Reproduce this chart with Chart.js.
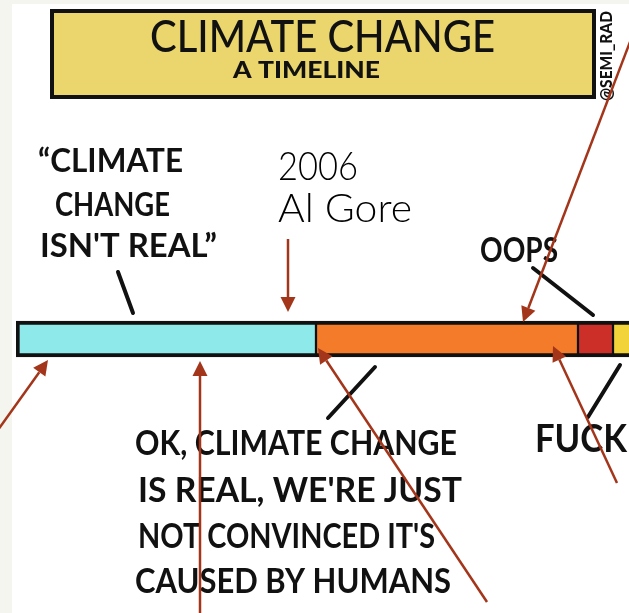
<!DOCTYPE html>
<html lang="en">
<head>
  <meta charset="UTF-8" />
  <title>Climate Change - A Timeline</title>
  <script src="https://cdn.jsdelivr.net/npm/chart.js"></script>
  <style>
    html, body { margin: 0; padding: 0; background: #fff; }
    #wrap { width: 629px; height: 613px; position: relative; }
  </style>
</head>
<body>
  <div id="wrap"><canvas id="timeline" width="629" height="613"></canvas></div>

  <script>
    // --- data: the timeline, one stacked bar, lengths in arbitrary "time" units
    const categories = ["Timeline"];
    const phaseNames = ["Climate change isn't real", "Not caused by humans", "Oops", "F***"];
    const phaseLengths = [300, 262, 35, 40];
    const phaseColors = ["#8de9ea", "#f47b29", "#cb2f27", "#f2d43a"];
    const axisMax = 613;

    // hand lettered labels (left x, baseline y, width)
    const labels = [
      { text: "\u201CCLIMATE", x: 38, y: 172, w: 145, size: 32, weight: 700 },
      { text: "CHANGE", x: 55, y: 216, w: 115, size: 32, weight: 700 },
      { text: "ISN'T REAL\u201D", x: 40, y: 257, w: 177, size: 32, weight: 700 },
      { text: "OOPS", x: 480, y: 262, w: 78, size: 35, weight: 700 },
      { text: "FUCK", x: 535, y: 452, w: 92, size: 38, weight: 700 },
      { text: "OK, CLIMATE CHANGE", x: 135, y: 455, w: 322, size: 35, weight: 700 },
      { text: "IS REAL, WE'RE JUST", x: 138, y: 502, w: 324, size: 35, weight: 700 },
      { text: "NOT CONVINCED IT'S", x: 138, y: 548, w: 297, size: 35, weight: 700 },
      { text: "CAUSED BY HUMANS", x: 135, y: 593, w: 316, size: 35, weight: 700 },
      { text: "2006", x: 278, y: 180, w: 80, size: 40, weight: 300, thin: true },
      { text: "Al Gore", x: 278, y: 222, w: 134, size: 40, weight: 300, thin: true }
    ];

    // black pointer strokes drawn in the comic
    const strokes = [
      [118, 272, 133, 313],
      [533, 268, 593, 315],
      [375, 367, 328, 418],
      [620, 365, 588, 417]
    ];

    // red arrows added on top: tip = value on the time axis + offset from bar edge
    const arrows = [
      { at: 32, edge: "bottom", dy: 3, tail: [-2, 430] },
      { at: 184, edge: "bottom", dy: 4, tail: [200, 620] },
      { at: 272, edge: "top", dy: -9, tail: [288, 239] },
      { at: 507, edge: "top", dy: 1, tail: [630, 42] },
      { at: 302, edge: "bottom", dy: -9, tail: [487, 602] },
      { at: 537, edge: "bottom", dy: -11, tail: [617, 483] }
    ];

    function fitText(ctx, str, x, y, w, font) {
      ctx.font = font;
      const m = ctx.measureText(str).width;
      ctx.save();
      ctx.translate(x, y);
      ctx.scale(w / m, 1);
      ctx.fillText(str, 0, 0);
      ctx.restore();
    }

    function line(ctx, x1, y1, x2, y2) {
      ctx.beginPath();
      ctx.moveTo(x1, y1);
      ctx.lineTo(x2, y2);
      ctx.stroke();
    }

    const comicPlugin = {
      id: "comic",
      beforeDraw(chart) {
        const ctx = chart.ctx;
        ctx.save();
        ctx.fillStyle = "#ffffff";
        ctx.fillRect(0, 0, chart.width, chart.height);
        // faint scan edges
        ctx.fillStyle = "#f4f5ef";
        ctx.fillRect(0, 0, 12, chart.height);
        ctx.fillRect(0, 0, chart.width, 4);

        // title box
        ctx.fillStyle = "#ebd56d";
        ctx.strokeStyle = "#111";
        ctx.lineWidth = 4;
        ctx.fillRect(52, 11, 542, 86);
        ctx.strokeRect(52, 11, 542, 86);

        ctx.fillStyle = "#111";
        ctx.textBaseline = "alphabetic";
        fitText(ctx, "CLIMATE CHANGE", 150, 52, 345, "500 44px Lato");
        fitText(ctx, "A TIMELINE", 233, 78, 147, "900 22px Lato");

        ctx.save();
        ctx.translate(612, 101);
        ctx.rotate(-Math.PI / 2);
        fitText(ctx, "@SEMI_RAD", 0, 0, 90, "900 16px Lato");
        ctx.restore();

        labels.forEach(l => {
          ctx.fillStyle = l.thin ? "#000" : "#111";
          fitText(ctx, l.text, l.x, l.y, l.w, l.weight + " " + l.size + "px Lato");
        });

        ctx.strokeStyle = "#111";
        ctx.lineWidth = 4;
        ctx.lineCap = "round";
        strokes.forEach(s => line(ctx, s[0], s[1], s[2], s[3]));
        ctx.restore();
      },
      afterDraw(chart) {
        const ctx = chart.ctx;
        const xs = chart.scales.x;
        const bar = chart.getDatasetMeta(0).data[0];
        const top = bar.y - bar.height / 2;
        const bottom = bar.y + bar.height / 2;
        ctx.save();
        ctx.strokeStyle = "#a3351a";
        ctx.fillStyle = "#a3351a";
        ctx.lineWidth = 2.5;
        arrows.forEach(a => {
          const tx = xs.getPixelForValue(a.at);
          const ty = (a.edge === "top" ? top : bottom) + a.dy;
          const [sx, sy] = a.tail;
          const ang = Math.atan2(ty - sy, tx - sx);
          const len = 15, half = 7.5;
          const bx = tx - Math.cos(ang) * len;
          const by = ty - Math.sin(ang) * len;
          line(ctx, sx, sy, bx, by);
          ctx.beginPath();
          ctx.moveTo(tx, ty);
          ctx.lineTo(bx - Math.sin(ang) * half, by + Math.cos(ang) * half);
          ctx.lineTo(bx + Math.sin(ang) * half, by - Math.cos(ang) * half);
          ctx.closePath();
          ctx.fill();
        });
        ctx.restore();
      }
    };

    const last = phaseLengths.length - 1;
    const datasets = phaseLengths.map((v, i) => ({
      label: phaseNames[i],
      data: [v],
      backgroundColor: phaseColors[i],
      borderColor: "#111",
      borderWidth: { top: 4, bottom: 4, left: i === 0 ? 4 : 1.5, right: i === last ? 0 : 1.5 },
      borderSkipped: false,
      barThickness: 36
    }));

    new Chart(document.getElementById("timeline"), {
      type: "bar",
      data: { labels: categories, datasets },
      options: {
        indexAxis: "y",
        responsive: false,
        animation: false,
        layout: { padding: { top: 300, bottom: 235, left: 16, right: 0 } },
        scales: {
          x: { stacked: true, min: 0, max: axisMax, display: false },
          y: { stacked: true, display: false }
        },
        plugins: {
          legend: { display: false },
          tooltip: { enabled: false }
        }
      },
      plugins: [comicPlugin]
    });
  </script>
</body>
</html>
